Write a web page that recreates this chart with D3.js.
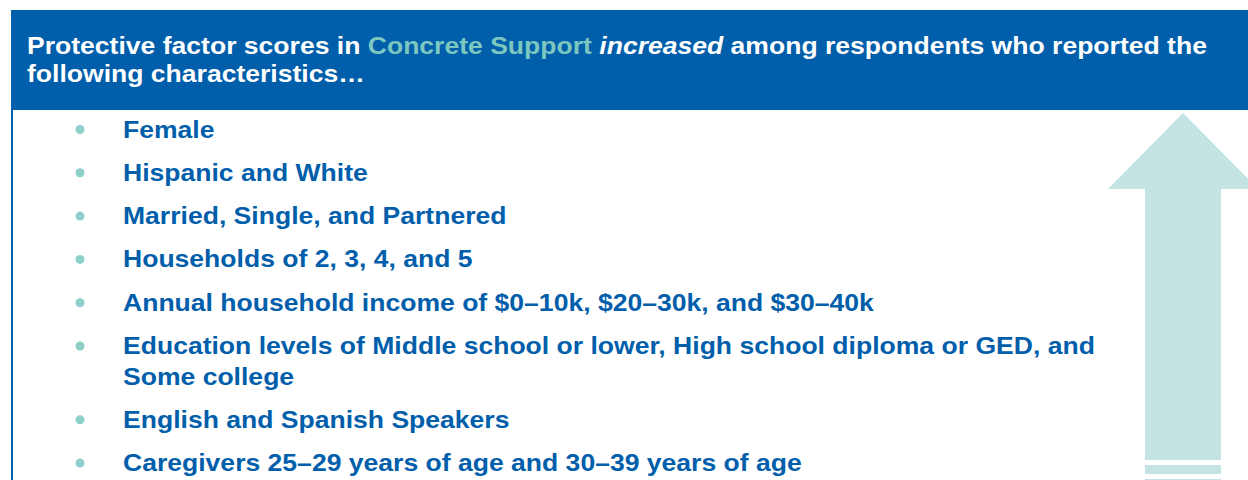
<!DOCTYPE html>
<html>
<head>
<meta charset="utf-8">
<script src="https://cdn.jsdelivr.net/npm/d3@7"></script>
<style>
  html, body { margin: 0; padding: 0; background: #ffffff; }
  svg { display: block; }
</style>
</head>
<body>
<svg id="chart" width="1248" height="480"></svg>
<script>
// ---- content ----
const headerLine1 = [
  { text: "Protective factor scores in ", style: "normal" },
  { text: "Concrete Support", style: "accent" },
  { text: " ", style: "normal" },
  { text: "increased", style: "italic" },
  { text: " among respondents who reported the", style: "normal" }
];
const headerLine2 = [
  { text: "following characteristics…", style: "normal" }
];
const bulletItems = [
  ["Female"],
  ["Hispanic and White"],
  ["Married, Single, and Partnered"],
  ["Households of 2, 3, 4, and 5"],
  ["Annual household income of $0–10k, $20–30k, and $30–40k"],
  ["Education levels of Middle school or lower, High school diploma or GED, and", "Some college"],
  ["English and Spanish Speakers"],
  ["Caregivers 25–29 years of age and 30–39 years of age"]
];

// ---- styling ----
const W = 1248, H = 480;
const BLUE = "#005EAB", TEAL = "#8ECFCA", ACCENT = "#7CC8C0", ARROW = "#C3E4E2";
const FONT = "'Liberation Sans', Arial, sans-serif";
const FS = 24.3, SX = 1.093; // source text is slightly wide-set

const svg = d3.select("#chart");

// header box
const headerTop = 10, headerBottom = 110, boxLeft = 11;
svg.append("rect").attr("x", boxLeft).attr("y", headerTop)
  .attr("width", W - boxLeft).attr("height", headerBottom - headerTop).attr("fill", BLUE);
// left border line
svg.append("rect").attr("x", boxLeft).attr("y", headerBottom)
  .attr("width", 2).attr("height", H - headerBottom).attr("fill", BLUE);

function headerLine(parts, y) {
  const t = svg.append("g").attr("transform", `translate(27,${y}) scale(${SX},1)`)
    .append("text").attr("x", 0).attr("y", 0)
    .attr("font-family", FONT).attr("font-size", FS).attr("font-weight", "bold")
    .attr("fill", "#ffffff");
  t.selectAll("tspan").data(parts).join("tspan")
    .attr("fill", d => d.style === "accent" ? ACCENT : "#ffffff")
    .attr("font-style", d => d.style === "italic" ? "italic" : "normal")
    .style("white-space", "pre")
    .text(d => d.text);
}
headerLine(headerLine1, 54);
headerLine(headerLine2, 82);

// arrow
const arrowCx = 1183, tipY = 113, wingY = 189, headHalf = 75, shaftL = 1145, shaftR = 1221, shaftBottom = 460;
const arrowPath = d3.path();
arrowPath.moveTo(arrowCx, tipY);
arrowPath.lineTo(arrowCx + headHalf, wingY);
arrowPath.lineTo(shaftR, wingY);
arrowPath.lineTo(shaftR, shaftBottom);
arrowPath.lineTo(shaftL, shaftBottom);
arrowPath.lineTo(shaftL, wingY);
arrowPath.lineTo(arrowCx - headHalf, wingY);
arrowPath.closePath();
svg.append("path").attr("d", arrowPath.toString()).attr("fill", ARROW);
const stripes = [{ y: 465, h: 9 }, { y: 479, h: 4 }];
svg.selectAll("rect.stripe").data(stripes).join("rect").attr("class", "stripe")
  .attr("x", shaftL).attr("width", shaftR - shaftL)
  .attr("y", d => d.y).attr("height", d => d.h).attr("fill", ARROW);

// bullets
const firstBaseline = 137.5, itemGap = 43.3, wrapGap = 30.5;
let y = firstBaseline;
const rows = bulletItems.map(lines => {
  const r = { lines, y };
  y += itemGap + (lines.length - 1) * wrapGap;
  return r;
});
const g = svg.append("g");
const item = g.selectAll("g.item").data(rows).join("g").attr("class", "item");
item.append("circle").attr("cx", 80).attr("cy", d => d.y - 8).attr("r", 4.5).attr("fill", TEAL);
item.selectAll("g.line").data(d => d.lines.map((l, i) => ({ l, y: d.y + i * wrapGap }))).join("g")
  .attr("class", "line")
  .attr("transform", d => `translate(123,${d.y}) scale(${SX},1)`)
  .append("text")
  .attr("font-family", FONT).attr("font-size", FS).attr("font-weight", "bold").attr("fill", BLUE)
  .text(d => d.l);
</script>
</body>
</html>
